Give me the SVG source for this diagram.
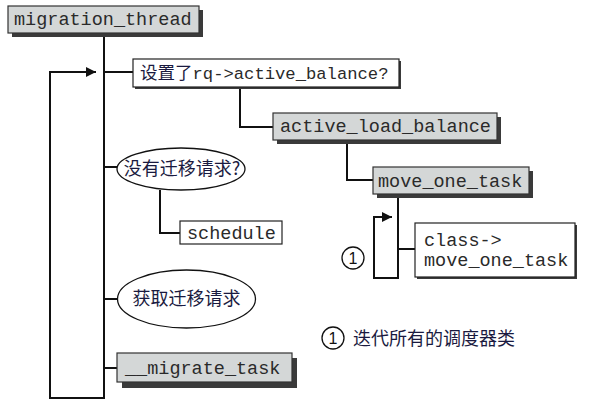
<svg xmlns="http://www.w3.org/2000/svg" width="595" height="410" viewBox="0 0 595 410">
<style>
.mono{font-family:"Liberation Mono","DejaVu Sans Mono",monospace;font-size:18.5px;fill:#2a2a2a}
.cjk{font-family:"Noto Sans CJK SC","Noto Sans CJK JP",sans-serif;font-size:18px;fill:#1a1a40}
.gray{fill:#d4d7d7;stroke:#333;stroke-width:1.2}
.shadow{fill:#3a3a3a}
.white{fill:#fff;stroke:#222;stroke-width:1.2}
.ln{fill:none;stroke:#111;stroke-width:2}
</style>
<defs>
<marker id="arr" viewBox="0 0 10 10" refX="10" refY="5" markerWidth="10" markerHeight="10" markerUnits="userSpaceOnUse" orient="auto">
<path d="M0,0 L10,5 L0,10 Z" fill="#111"/>
</marker>
</defs>
<rect width="595" height="410" fill="#fff"/>
<g id="connectors">
<path class="ln" d="M104,32 V398 H50 V72 H96" marker-end="url(#arr)"/>
<path class="ln" d="M104,72 H133"/>
<path class="ln" d="M240,87 V127 H273"/>
<path class="ln" d="M347,139 V180 H373"/>
<path class="ln" d="M398,194 V278 H374 V217 H392" marker-end="url(#arr)"/>
<path class="ln" d="M398,249 H415"/>
<path class="ln" d="M104,167 H117"/>
<path class="ln" d="M160,190 V233 H180"/>
<path class="ln" d="M104,299 H117"/>
<path class="ln" d="M104,368 H117"/>
</g>
<g id="migration_thread">
<rect class="shadow" x="12" y="10" width="191" height="27"/>
<rect class="gray" x="8" y="6" width="191" height="27"/>
<text class="mono" x="14" y="25">migration_thread</text>
</g>
<g id="check_active_balance">
<rect class="shadow" x="135" y="61" width="266" height="28"/>
<rect class="white" x="133" y="59" width="266" height="28"/>
<text x="140" y="79"><tspan class="cjk" style="font-size:17.5px">设置了</tspan><tspan class="mono" style="font-size:17.2px">rq-&gt;active_balance?</tspan></text>
</g>
<g id="active_load_balance">
<rect class="shadow" x="277" y="117" width="224" height="27"/>
<rect class="gray" x="273" y="113" width="224" height="27"/>
<text class="mono" x="280" y="132">active_load_balance</text>
</g>
<g id="move_one_task">
<rect class="shadow" x="377" y="171" width="156" height="27"/>
<rect class="gray" x="373" y="167" width="156" height="27"/>
<text class="mono" x="378" y="187">move_one_task</text>
</g>
<g id="class_move_one_task">
<rect class="shadow" x="417" y="225" width="160" height="54"/>
<rect class="white" x="415" y="223" width="160" height="54"/>
<text class="mono" x="424" y="246">class-&gt;</text>
<text class="mono" x="424" y="266">move_one_task</text>
</g>
<g id="marker1">
<circle cx="353" cy="258" r="11" fill="#fff" stroke="#111" stroke-width="1.3"/>
<text x="353" y="264" text-anchor="middle" font-family="Liberation Sans,sans-serif" font-size="16" fill="#111">1</text>
</g>
<g id="no_migration_request">
<ellipse cx="181" cy="169" rx="64" ry="21" fill="#fff" stroke="#111" stroke-width="1.3"/>
<text class="cjk" x="182" y="175" text-anchor="middle">没有迁移请求?</text>
</g>
<g id="schedule">
<rect class="white" x="180" y="221" width="102" height="23"/>
<text class="mono" x="187" y="239">schedule</text>
</g>
<g id="get_migration_request">
<ellipse cx="186.5" cy="299" rx="69" ry="29" fill="#fff" stroke="#111" stroke-width="1.3"/>
<text class="cjk" x="186.5" y="305" text-anchor="middle">获取迁移请求</text>
</g>
<g id="migrate_task">
<rect class="shadow" x="122" y="358" width="175" height="30"/>
<rect class="gray" x="117" y="353" width="175" height="29"/>
<text class="mono" x="125" y="374">__migrate_task</text>
</g>
<g id="legend">
<circle cx="333" cy="338" r="11" fill="#fff" stroke="#111" stroke-width="1.3"/>
<text x="333" y="344" text-anchor="middle" font-family="Liberation Sans,sans-serif" font-size="16" fill="#111">1</text>
<text class="cjk" x="353" y="345">迭代所有的调度器类</text>
</g>
</svg>
